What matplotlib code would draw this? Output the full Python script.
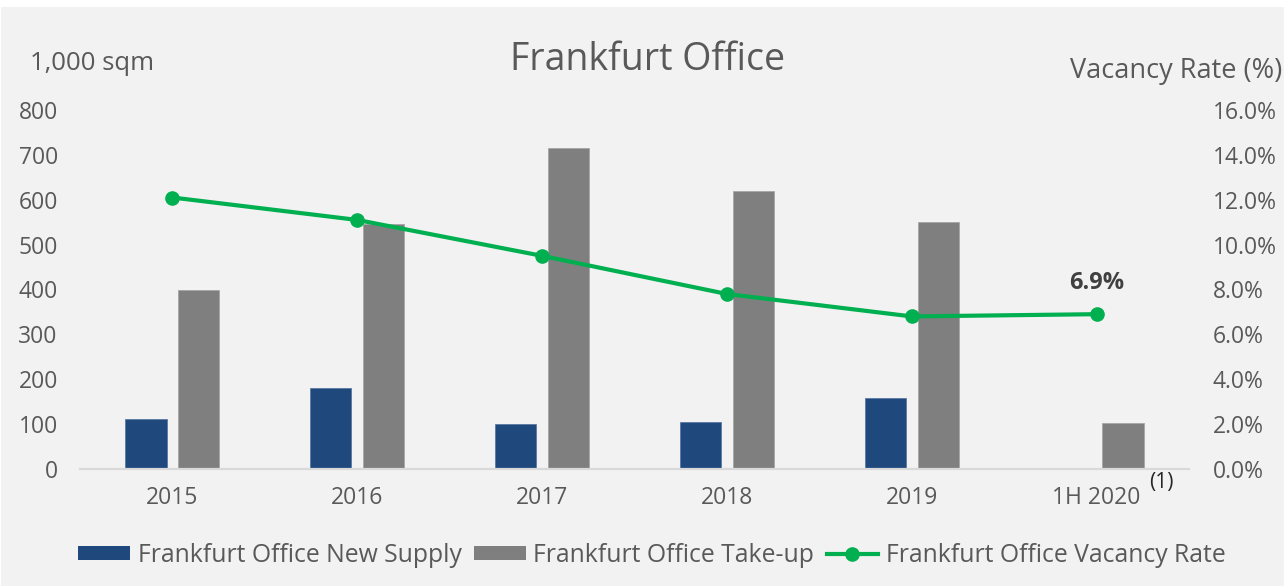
import matplotlib
matplotlib.use("Agg")
import matplotlib.pyplot as plt
from matplotlib.patches import Rectangle, Patch
from matplotlib.lines import Line2D
import numpy as np

categories = ["2015", "2016", "2017", "2018", "2019", "1H 2020"]
new_supply = [111, 180, 100, 105, 158, np.nan]
take_up = [400, 545, 715, 620, 550, 103]
vacancy = [12.1, 11.1, 9.5, 7.8, 6.8, 6.9]
left_ticks = [0, 100, 200, 300, 400, 500, 600, 700, 800]
right_ticks = [0, 2, 4, 6, 8, 10, 12, 14, 16]

FONT = "Open Sans"
TXT = "#595959"
BLUE = "#1f497d"
GRAY = "#7f7f7f"
GREEN = "#00b050"
BG = "#f2f2f2"
FS = 16.5

plt.rcParams["font.family"] = [FONT, "DejaVu Sans"]

W, H = 1284, 587
fig = plt.figure(figsize=(W / 100, H / 100), dpi=100, facecolor="white")
fig.patches.append(Rectangle((1 / W, 1 / H), 1, (H - 8) / H, transform=fig.transFigure,
                             facecolor=BG, edgecolor="none", zorder=-10))

ax = fig.add_axes([80 / W, 1 - 469 / H, (1189 - 80) / W, (469 - 110) / H])
ax.set_facecolor("none")
ax2 = ax.twinx()
ax2.set_facecolor("none")

x = np.arange(len(categories))
bw = 0.222
off = 0.143
ax.bar(x - off, new_supply, width=bw, color=BLUE, edgecolor="#5a7aa3", linewidth=0.6, zorder=2)
ax.bar(x + off, take_up, width=bw, color=GRAY, edgecolor="#a6a6a6", linewidth=0.6, zorder=2)
ax2.plot(x, vacancy, color=GREEN, lw=3.0, marker="o", markersize=9.5, zorder=3)

ax.set_xlim(-0.5, len(categories) - 0.5)
ax.set_ylim(0, 800)
ax2.set_ylim(0, 16)
ax.set_yticks(left_ticks)
ax.set_yticklabels([str(v) for v in left_ticks])
ax2.set_yticks(right_ticks)
ax2.set_yticklabels([f"{v:.1f}%" for v in right_ticks])
ax.set_xticks(x)
ax.set_xticklabels(categories)

for a in (ax, ax2):
    for s in ["top", "left", "right", "bottom"]:
        a.spines[s].set_visible(False)
ax.spines["bottom"].set_visible(True)
ax.spines["bottom"].set_color("#d9d9d9")
ax.spines["bottom"].set_linewidth(1.6)

ax.tick_params(axis="x", length=0, pad=12, labelsize=FS, labelcolor=TXT)
ax.tick_params(axis="y", length=0, pad=16, labelsize=FS, labelcolor=TXT)
ax2.tick_params(axis="y", length=0, pad=17, labelsize=FS, labelcolor=TXT)

ax.annotate("(1)", xy=(5, 0), xycoords=("data", "axes fraction"), xytext=(47, -10),
            textcoords="offset points", ha="center", va="center", fontsize=15, color="#262626")
ax2.annotate(f"{vacancy[-1]:.1f}%", xy=(5, vacancy[-1]), xytext=(0, 18), textcoords="offset points",
             ha="center", va="baseline", fontsize=17, fontweight="bold", color="#404040")

fig.text(648 / W, 1 - 70 / H, "Frankfurt Office", ha="center", va="baseline", fontsize=27, color=TXT)
fig.text(30 / W, 1 - 64 / H, "1,000 sqm", ha="left", va="center", fontsize=18.5, color=TXT)
fig.text(1282 / W, 1 - 71 / H, "Vacancy Rate (%)", ha="right", va="center", fontsize=19.5, color=TXT)

handles = [Patch(facecolor=BLUE, edgecolor="none"),
           Patch(facecolor=GRAY, edgecolor="none"),
           Line2D([], [], color=GREEN, lw=3.0, marker="o", markersize=9.5)]
labels = ["Frankfurt Office New Supply", "Frankfurt Office Take-up", "Frankfurt Office Vacancy Rate"]
fig.legend(handles, labels, loc="center", bbox_to_anchor=(652 / W, 1 - 555 / H), ncol=3,
           frameon=False, fontsize=17.8, labelcolor=TXT, handlelength=2.1, handleheight=0.5,
           handletextpad=0.3, columnspacing=0.5)

fig.savefig("out.png", dpi=100, facecolor=fig.get_facecolor())
